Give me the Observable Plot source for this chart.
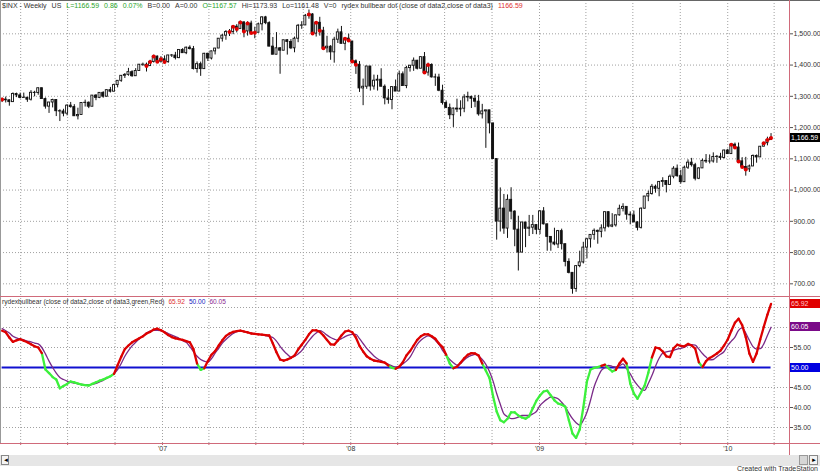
<!DOCTYPE html>
<html><head><meta charset="utf-8">
<script src="https://cdn.jsdelivr.net/npm/d3@7"></script>
<script src="https://cdn.jsdelivr.net/npm/@observablehq/plot@0.6"></script>
<style>
body{margin:0;background:#fff;}
#wrap{position:relative;width:820px;height:472px;overflow:hidden;background:#fff;font-family:"Liberation Sans",Arial,sans-serif;}
.abs{position:absolute;white-space:nowrap;}
#wrap svg{position:absolute;left:0;}
.hdr span{margin-right:5px;}
.ttl span{margin-right:4px;}
</style></head><body><div id="wrap"></div>
<script>
// ---- DATA (weekly $INX bars, first bar week ending 2006-02-24) ----
const firstBar = "2006-02-24";
const weekOpen = [
1287.8,1289.4,1287.2,1281.4,1307.3,1303.0,1294.8,1295.5,1289.1,1311.3,1310.6,1325.8,1291.2,1267.0,1280.2,1288.2,1252.3,1251.5,1244.5,1270.2,1265.5,1236.2,1240.3,1278.6,1279.4,1266.7,1302.3,1295.1,1311.0,1298.9,1319.7,1314.8,1335.9,1349.6,1365.6,1368.6,1377.3,1364.3,1380.9,1401.2,1401.0,1396.7,1409.8,1427.1,1410.8,
1418.3,1409.7,1430.7,1430.5,1422.2,1448.4,1438.1,1455.5,1451.2,1387.2,1402.8,1387.0,1436.1,1420.9,1443.8,1452.9,1484.4,1494.1,1505.6,1505.9,1522.8,1515.7,1536.3,1507.7,1532.9,1502.6,1503.4,1530.4,1552.5,1534.1,1459.0,1433.1,1453.6,1445.9,1479.4,1474.0,1453.6,1484.3,1525.8,1526.8,1557.6,1561.8,1500.6,1535.3,1509.7,1453.7,1458.7,1440.7,1481.1,1504.7,1468.0,1484.5,
1475.3,1411.9,1401.0,1325.2,1330.6,1395.4,1331.3,1350.0,1353.1,1330.5,1293.2,1288.1,1329.5,1315.2,1370.4,1332.8,1390.3,1397.8,1413.9,1388.3,1425.4,1375.9,1400.4,1360.7,1360.0,1317.9,1278.4,1262.9,1239.5,1260.7,1257.8,1260.3,1296.3,1298.2,1292.2,1282.8,1242.3,1251.7,1255.1,1213.3,1099.2,899.2,940.6,876.8,968.8,931.0,873.3,800.0,896.2,876.1,879.7,887.9,
872.8,931.8,890.4,850.1,832.0,825.9,868.6,826.8,770.1,735.1,683.4,756.6,768.5,815.9,842.5,856.6,869.6,866.2,877.5,929.2,882.9,887.0,919.1,940.1,946.2,921.2,918.9,896.4,879.1,940.4,979.3,987.5,1010.5,1004.1,1026.1,1028.9,1016.4,1042.7,1068.3,1044.4,1025.2,1071.5,1087.7,1079.6,1036.2,1069.3,1093.5,1091.4,1091.5,1106.0,1106.4,1102.5,1126.5,
1115.1,1145.0,1136.0,1091.8,1073.9,1066.2,1075.5,1109.2,1104.5,1138.7,1150.0,1159.9];
const weekHigh = [
1294.0,1297.6,1288.5,1310.9,1310.2,1310.2,1310.4,1296.3,1318.2,1316.0,1326.7,1326.7,1294.8,1280.5,1290.7,1288.2,1257.0,1258.6,1272.8,1280.4,1273.3,1262.0,1280.0,1287.9,1282.0,1302.3,1305.5,1311.7,1314.7,1321.3,1328.5,1339.2,1350.2,1366.6,1372.9,1389.5,1381.9,1388.6,1401.5,1406.3,1406.3,1415.3,1431.6,1429.1,1427.0,
1429.4,1431.2,1433.9,1440.7,1449.3,1452.5,1457.7,1461.6,1459.6,1410.1,1409.4,1437.7,1437.8,1444.9,1453.1,1484.7,1498.0,1510.3,1513.8,1522.9,1529.3,1540.6,1539.1,1538.7,1540.5,1521.2,1534.3,1555.1,1555.9,1538.4,1488.3,1503.9,1456.0,1479.4,1481.2,1481.5,1489.6,1530.0,1538.7,1561.9,1576.1,1564.7,1535.3,1552.8,1520.8,1492.1,1462.2,1488.9,1515.0,1523.6,1485.4,1498.9,
1475.8,1416.4,1411.2,1355.2,1396.0,1395.4,1367.9,1367.2,1388.3,1336.4,1321.7,1330.7,1352.1,1380.9,1378.0,1395.9,1399.1,1422.7,1415.0,1426.5,1440.2,1406.3,1404.1,1371.0,1370.6,1335.6,1285.3,1275.3,1262.3,1290.9,1285.7,1305.0,1313.2,1300.7,1303.0,1303.0,1274.3,1255.2,1255.1,1213.3,1099.2,1006.9,986.0,984.4,1007.5,933.8,916.3,896.3,896.2,918.9,918.9,887.9,
934.7,943.9,890.4,850.1,877.9,870.8,875.0,826.8,780.1,735.1,758.3,804.5,832.9,845.6,856.6,875.6,871.8,888.7,930.2,930.2,924.6,920.0,951.7,956.2,946.2,930.2,932.7,898.7,943.0,979.8,996.7,1018.0,1015.9,1027.6,1039.5,1028.9,1048.2,1074.8,1080.2,1063.4,1076.7,1096.6,1101.4,1085.6,1071.5,1099.2,1113.7,1112.4,1119.1,1110.7,1117.7,1128.1,1130.4,
1145.4,1150.4,1150.5,1103.7,1104.7,1080.0,1112.4,1112.4,1139.0,1151.9,1169.2,1180.7];
const weekLow = [
1280.0,1278.7,1268.4,1280.7,1295.8,1291.8,1294.7,1280.7,1284.9,1298.4,1303.5,1291.2,1259.0,1245.3,1262.9,1235.2,1219.3,1234.4,1237.5,1262.2,1235.9,1224.5,1240.2,1265.7,1260.6,1266.7,1286.0,1292.6,1294.0,1297.0,1310.6,1314.0,1327.1,1344.8,1357.1,1364.3,1360.9,1363.7,1379.5,1395.6,1377.8,1396.6,1406.4,1409.1,1406.3,
1403.9,1405.4,1424.2,1416.4,1420.5,1437.2,1433.3,1448.4,1384.3,1374.1,1363.9,1386.3,1411.4,1416.4,1432.4,1452.8,1473.7,1479.4,1491.4,1497.2,1503.0,1515.5,1487.4,1492.7,1500.6,1484.2,1503.1,1509.4,1529.2,1458.9,1432.8,1433.1,1370.6,1445.9,1432.0,1449.6,1439.3,1471.6,1514.4,1526.8,1546.7,1500.5,1489.6,1492.7,1448.5,1438.5,1415.3,1406.1,1469.1,1467.8,1446.0,1475.0,
1411.2,1370.2,1312.5,1270.1,1322.4,1316.8,1320.0,1316.8,1330.6,1272.7,1274.9,1256.98,1315.2,1315.2,1332.8,1324.4,1377.5,1380.0,1384.3,1388.3,1373.1,1364.5,1358.3,1331.8,1314.8,1272.0,1260.7,1225.4,1200.4,1248.0,1234.7,1247.5,1282.1,1261.0,1263.6,1236.5,1227.5,1133.5,1179.8,1098.1,839.8,865.8,858.4,845.3,904.9,818.7,741.0,799.3,815.7,851.4,857.7,857.1,
857.3,888.3,804.3,804.3,821.7,812.9,808.2,754.3,731.8,666.8,672.9,751.5,763.6,779.8,814.5,839.4,826.8,847.1,866.1,878.9,879.6,881.5,916.6,930.0,903.6,888.9,896.4,869.3,875.3,938.6,962.8,983.7,990.1,978.5,1008.6,991.0,1016.4,1036.0,1041.2,1019.0,1025.2,1066.0,1073.6,1029.4,1033.4,1069.3,1085.2,1083.7,1086.2,1085.7,1095.4,1099.5,1114.8,
1115.1,1131.4,1090.2,1071.6,1044.5,1056.5,1075.5,1086.0,1104.5,1138.7,1141.5,1159.9];
const weekClose = [
1289.43,1287.23,1281.42,1307.25,1302.95,1294.83,1295.50,1289.12,1311.28,1310.61,1325.76,1291.24,1267.03,1280.16,1288.22,1252.30,1251.54,1244.50,1270.20,1265.48,1236.20,1240.29,1278.55,1279.36,1266.74,1302.30,1295.09,1311.01,1298.92,1319.66,1314.78,1335.85,1349.59,1365.62,1368.60,1377.34,1364.30,1380.90,1401.20,1400.95,1396.71,1409.84,1427.09,1410.76,1418.30,
1409.71,1430.73,1430.50,1422.18,1448.39,1438.06,1455.54,1451.19,1387.17,1402.84,1386.95,1436.11,1420.86,1443.76,1452.85,1484.35,1494.07,1505.62,1505.85,1522.75,1515.73,1536.34,1507.67,1532.91,1502.56,1503.35,1530.44,1552.50,1534.10,1458.95,1433.06,1453.64,1445.94,1479.37,1473.99,1453.55,1484.25,1525.75,1526.75,1557.59,1561.80,1500.63,1535.28,1509.65,1453.70,1458.74,1440.70,1481.14,1504.66,1467.95,1484.46,1478.49,
1411.63,1401.02,1325.19,1330.61,1395.42,1331.29,1349.99,1353.11,1330.63,1293.37,1288.14,1329.51,1315.22,1370.40,1332.83,1390.33,1397.84,1413.90,1388.28,1425.35,1375.93,1400.38,1360.68,1360.03,1317.93,1278.38,1262.90,1239.49,1260.68,1257.76,1260.31,1296.32,1298.20,1292.20,1282.83,1242.31,1251.70,1255.08,1213.27,1099.23,899.22,940.55,876.77,968.75,930.99,873.29,800.03,896.24,876.07,879.73,887.88,872.80,
931.80,890.35,850.12,831.95,825.88,868.60,826.84,770.05,735.09,683.38,756.55,768.54,815.94,842.50,856.56,869.60,866.23,877.52,929.23,882.88,887.00,919.14,940.09,946.21,921.23,918.90,896.42,879.13,940.38,979.26,987.48,1010.48,1004.09,1026.13,1028.93,1016.40,1042.73,1068.30,1044.38,1025.21,1071.49,1087.68,1079.60,1036.19,1069.30,1093.48,1091.38,1091.49,1105.98,1106.41,1102.47,1126.48,1115.10,
1144.98,1136.03,1091.76,1073.87,1066.19,1075.51,1109.17,1104.49,1138.70,1149.99,1159.90,1166.59];
// bars that carry the red "rydex bullbear dot"
const dotBars = [0,40,41,42,43,44,45,63,64,65,66,67,68,69,70,85,86,87,88,89,95,96,97,98,117,118,202,203,204,205,206,211,212,213];
// indicator: fast line (green/red) and slow line (purple)
const fastLine = [
59.2,58.8,57.5,56.4,56.8,57.1,56.7,56.3,55.8,55.3,55.0,53.6,49.5,48.6,47.6,47.0,44.8,45.4,45.9,46.5,
46.3,46.0,45.7,45.6,45.5,45.9,46.3,46.7,47.0,47.4,47.8,48.4,50.6,52.7,54.6,55.5,56.3,56.8,57.3,57.8,
58.5,58.9,59.5,59.7,59.3,58.8,58.1,57.6,57.3,57.1,56.9,56.6,56.3,54.6,51.0,49.4,49.8,51.6,53.2,54.1,
55.5,56.8,57.9,58.5,58.9,59.1,59.2,59.0,58.8,58.5,58.4,58.3,58.2,58.1,58.0,56.0,
53.8,52.0,51.7,52.0,52.4,53.0,54.5,55.7,56.9,58.3,59.3,59.3,58.9,58.0,56.9,55.8,55.7,56.75,58.0,59.0,
59.2,58.8,57.5,55.4,54.0,52.8,52.2,51.75,51.6,51.4,51.2,50.5,49.9,49.7,50.2,51.3,53.0,54.1,55.5,56.9,
57.8,58.3,58.3,57.8,57.2,56.0,55.1,53.2,51.0,49.8,50.2,51.2,52.3,53.2,53.6,53.5,53.0,51.0,49.2,47.4,
42.8,39.0,36.8,36.3,37.2,38.8,38.8,38.0,37.5,37.2,37.8,39.8,41.7,43.0,44.0,44.2,43.0,41.8,41.0,40.7,
40.2,36.8,33.5,32.4,34.5,40.0,46.5,49.5,49.9,50.1,50.4,50.7,49.8,49.0,49.4,51.0,52.2,51.0,46.0,43.5,
42.2,43.8,45.5,48.7,52.5,55.0,54.8,54.0,52.8,52.6,54.8,55.7,55.4,55.3,55.9,55.5,54.7,51.3,50.1,51.6,
52.4,52.9,53.5,54.2,55.5,57.0,59.2,61.2,62.2,60.6,57.6,53.5,51.4,53.5,57.0,60.2,63.2,65.92];
const slowLine = [
59.7,59.2,58.6,57.8,57.4,57.1,56.9,56.6,56.4,56.1,55.9,55.0,53.4,51.6,50.0,48.6,47.5,47.0,46.6,46.3,
46.1,45.9,45.8,45.7,45.7,45.8,46.0,46.4,46.8,47.3,47.8,48.5,49.5,51.0,52.8,54.2,55.4,56.3,57.2,57.9,
58.6,59.1,59.3,59.3,59.25,58.9,58.5,58.1,57.7,57.3,56.7,56.3,55.2,54.0,52.8,52.0,51.6,51.3,52.2,53.6,
54.8,56.1,57.0,57.8,58.5,59.0,59.1,59.0,58.8,58.6,58.4,58.3,58.2,58.0,57.8,57.5,
56.6,55.3,54.2,53.3,52.6,52.8,53.4,54.2,55.5,56.7,57.8,58.6,59.2,58.8,58.1,57.5,57.1,56.8,57.2,57.7,
58.1,58.3,58.3,57.2,56.0,54.8,53.8,52.9,52.2,51.7,51.3,50.8,50.4,50.1,50.3,50.9,51.6,52.6,54.2,55.8,
56.8,57.5,57.9,57.6,56.8,55.8,54.3,53.1,52.0,51.2,50.6,51.0,51.9,52.6,53.0,53.3,52.8,52.0,50.8,49.0,
46.6,43.5,40.8,38.4,37.7,37.2,37.3,37.6,38.0,38.0,38.0,38.4,39.0,40.5,41.4,42.1,42.6,42.5,42.2,41.3,
40.2,38.6,37.2,36.2,35.6,36.8,38.8,41.8,45.2,47.5,49.3,50.0,50.5,50.3,50.1,50.4,50.9,49.7,48.4,46.8,
45.6,44.6,44.3,46.0,48.0,50.3,52.3,53.6,53.9,54.1,54.3,54.6,54.8,55.1,55.5,55.7,55.6,54.6,53.5,52.6,
51.9,52.0,52.7,53.3,54.0,55.5,56.6,57.6,59.3,59.9,58.6,56.8,55.2,54.6,54.7,55.9,58.0,60.05];
// bar ranges where the fast line is drawn green (else red)
const greenRanges = [[12,31],[55,56],[108,109],[124,125],[134,166],[168,170],[174,180],[194,194]];
const refLevel = 50;
const priceTicks = [700,800,900,1000,1100,1200,1300,1400,1500];
const indTicks = [35,40,45,55];
const indGrid = [35,40,45,55,60,65];
const yearTickDates = ["2007-01-01","2008-01-01","2009-01-01","2010-01-01"];
const yearLabels = ["'07","'08","'09","'10"];
const headerParts = [
  ["$INX - Weekly","#333"],["US","#333"],["L=1166.59","#2aa52a"],["0.86","#2aa52a"],["0.07%","#2aa52a"],
  ["B=0.00","#333"],["A=0.00","#333"],["O=1167.57","#2aa52a"],["Hi=1173.93","#333"],["Lo=1161.48","#333"],
  ["V=0","#333"],["rydex bullbear dot (close of data2,close of data3)","#333"],["1166.59","#e03030"]];
const indTitle = "rydexbullbear (close of data2,close of data3,green,Red)";

// ---- BUILD ----
const DAY = 864e5;
const t0 = new Date(firstBar + "T00:00:00Z");
const dates = weekClose.map((_, i) => new Date(+t0 + 7 * i * DAY));
const bars = weekClose.map((c, i) => ({date: dates[i], o: weekOpen[i], h: weekHigh[i], l: weekLow[i], c}));
const xDomain = [new Date(Date.UTC(2006,1,20,21)), new Date(Date.UTC(2010,3,30,19))];
const quarters = d3.utcMonth.every(3).range(xDomain[0], xDomain[1]);
const yearDates = yearTickDates.map(s => new Date(s + "T00:00:00Z"));
const half = 3.5 * DAY;
const font = `"Liberation Sans", Arial, sans-serif`;
const gridStyle = {stroke: "#a0a0a0", strokeOpacity: 1, strokeDasharray: "1,2", strokeWidth: 1};
const body = {
  x1: d => new Date(+d.date - half), x2: d => new Date(+d.date + half),
  y1: d => Math.min(d.o, d.c), y2: d => Math.max(d.o, d.c),
  insetLeft: 0.8, insetRight: 0.8, stroke: "#111", strokeWidth: 0.9
};
const main = Plot.plot({
  width: 820, height: 297, marginLeft: 0, marginRight: 31, marginTop: 0, marginBottom: 0,
  x: {type: "utc", domain: xDomain, axis: null},
  y: {domain: [656.2, 1606.6]},
  style: {fontFamily: font, fontSize: "7px", color: "#333", background: "transparent", overflow: "visible"},
  marks: [
    Plot.gridX(quarters, gridStyle),
    Plot.gridY(priceTicks, gridStyle),
    Plot.ruleX(bars, {x: "date", y1: "l", y2: "h", stroke: "#111", strokeWidth: 1}),
    Plot.rect(bars.filter(d => d.c >= d.o), {...body, fill: "#fff"}),
    Plot.rect(bars.filter(d => d.c < d.o), {...body, fill: "#111"}),
    Plot.dot(dotBars.map(i => bars[i]), {x: "date", y: "c", r: 2, fill: "#e00000", stroke: "none"}),
    Plot.axisY(priceTicks, {anchor: "right", tickSize: 3, tickPadding: 1, tickFormat: d3.format(",.2f"), stroke: "#555"})
  ]
});
const isGreen = i => greenRanges.some(([a, b]) => i >= a && i <= b);
const segs = fastLine.slice(1).map((v, k) => ({i: k + 1, xa: dates[k], ya: fastLine[k], xb: dates[k + 1], yb: v}));
const slow = slowLine.map((v, i) => ({date: dates[i], v}));
const linkOpts = {x1: "xa", y1: "ya", x2: "xb", y2: "yb", strokeWidth: 2.3, strokeLinecap: "round"};
const ind = Plot.plot({
  width: 820, height: 158, marginLeft: 0, marginRight: 31, marginTop: 1, marginBottom: 12,
  x: {type: "utc", domain: xDomain},
  y: {domain: [31, 67.25]},
  style: {fontFamily: font, fontSize: "7px", color: "#333", background: "transparent", overflow: "visible"},
  marks: [
    Plot.gridX(quarters, gridStyle),
    Plot.gridY(indGrid, gridStyle),
    Plot.ruleY([refLevel], {x1: dates[0], x2: dates[dates.length - 1], stroke: "#1010d0", strokeWidth: 2}),
    Plot.line(slow, {x: "date", y: "v", stroke: "#7a2a88", strokeWidth: 1.3, curve: "monotone-x"}),
    Plot.link(segs.filter(s => isGreen(s.i)), {...linkOpts, stroke: "#3cf03c"}),
    Plot.link(segs.filter(s => !isGreen(s.i)), {...linkOpts, stroke: "#dd0000"}),
    Plot.axisY(indTicks, {anchor: "right", tickSize: 3, tickPadding: 1, tickFormat: d3.format(".2f"), stroke: "#555"}),
    Plot.axisX(quarters, {anchor: "bottom", tickSize: 2, tickFormat: () => " ", stroke: "#c9606e"}),
    Plot.axisX(yearDates, {anchor: "bottom", tickSize: 0, tickPadding: 3,
      tickFormat: d => yearLabels[yearDates.findIndex(t => +t === +d)]})
  ]
});

const wrap = document.getElementById("wrap");
main.style.top = "0px"; ind.style.top = "297px";
wrap.appendChild(main); wrap.appendChild(ind);

function box(x, y, w, h, css) { const d = document.createElement("div"); d.className = "abs";
  Object.assign(d.style, {left: x + "px", top: y + "px", width: w + "px", height: h + "px"}, css || {}); wrap.appendChild(d); return d; }
function label(x, y, text, css) { const d = document.createElement("div"); d.className = "abs"; d.textContent = text;
  Object.assign(d.style, {left: x + "px", top: y + "px", fontSize: "7px", lineHeight: "9px"}, css || {}); wrap.appendChild(d); return d; }

// frame lines
const pink = "#d06a7a";
box(0, 0, 820, 1, {background: "#666"});
box(0, 0, 1, 443, {background: "#999"});
box(789, 0, 1, 455, {background: pink});
box(0, 296, 820, 1, {background: pink});
box(0, 443, 820, 1, {background: pink});

// header
const hdr = document.createElement("div"); hdr.className = "abs hdr";
Object.assign(hdr.style, {left: "2px", top: "1px", fontSize: "7px", lineHeight: "9px"});
headerParts.forEach(([t, c]) => { const s = document.createElement("span"); s.textContent = t; s.style.color = c; hdr.appendChild(s); });
wrap.appendChild(hdr);

// last price tag
const yMain = main.scale("y");
const last = weekClose[weekClose.length - 1];
label(790, yMain.apply(last) - 4.5, d3.format(",.2f")(last), {background: "#000", color: "#fff", width: "29px", paddingLeft: "1px"});

// indicator title & tags
const yInd = ind.scale("y");
const fLast = fastLine[fastLine.length - 1], sLast = slowLine[slowLine.length - 1];
const it = document.createElement("div"); it.className = "abs ttl";
Object.assign(it.style, {left: "2px", top: "297px", fontSize: "6.6px", lineHeight: "9px"});
[[indTitle, "#333"], [fLast.toFixed(2), "#e03030"], [refLevel.toFixed(2), "#2020c0"], [sLast.toFixed(2), "#8a2a90"]].forEach(([t, c]) => {
  const s = document.createElement("span"); s.textContent = t; s.style.color = c; it.appendChild(s); });
wrap.appendChild(it);
label(790, 297 + yInd.apply(fLast) - 4.5, fLast.toFixed(2), {background: "#e00000", color: "#ffc8c8", width: "29px", paddingLeft: "1px"});
label(790, 297 + yInd.apply(sLast) - 4.5, sLast.toFixed(2), {background: "#7a0a88", color: "#fff", width: "29px", paddingLeft: "1px"});
label(790, 297 + yInd.apply(refLevel) - 4.5, refLevel.toFixed(2), {background: "#0000e0", color: "#fff", width: "29px", paddingLeft: "1px"});

// scrollbar + footer
box(0, 455, 820, 11, {background: "#e6e6e6"});
box(1, 455, 8, 10, {background: "#f4f4f4", border: "1px solid #888", boxSizing: "border-box"});
box(799, 455, 9, 10, {background: "#d6d6d6", border: "1px solid #999", boxSizing: "border-box"});
box(809, 455, 9, 10, {background: "#f4f4f4", border: "1px solid #888", boxSizing: "border-box"});
label(3, 456, "◄", {fontSize: "6px", lineHeight: "8px", color: "#000"});
label(811, 456, "►", {fontSize: "6px", lineHeight: "8px", color: "#000"});
const ft = label(0, 464, "Created with TradeStation", {color: "#333"});
ft.style.left = ""; ft.style.right = "2px";
</script></body></html>
